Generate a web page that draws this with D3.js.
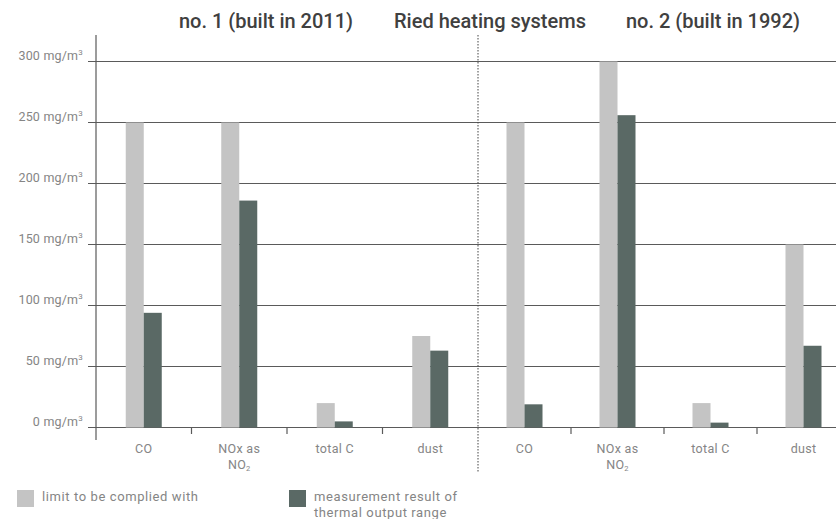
<!DOCTYPE html>
<html>
<head>
<meta charset="utf-8">
<script src="https://cdn.jsdelivr.net/npm/d3@7/dist/d3.min.js"></script>
<style>
  html, body { margin: 0; padding: 0; background: #fff; }
  svg { display: block; font-family: "Roboto", "DejaVu Sans", sans-serif; }
</style>
</head>
<body>
<svg id="chart" width="836" height="519"></svg>
<script>
// Emission measurements of two Ried heating systems (mg/m³)
const pollutants = ["CO", "NOx", "totalC", "dust"];
const systemTitles = ["no. 1 (built in 2011)", "no. 2 (built in 1992)"];
const mainTitle = "Ried heating systems";

const limit1 = [250, 250, 20, 75];
const measured1 = [94, 186, 5, 63];
const limit2 = [250, 300, 20, 150];
const measured2 = [19, 256, 4, 67];

const yTicks = [0, 50, 100, 150, 200, 250, 300];
const legendLabels = [["limit to be complied with"], ["measurement result of", "thermal output range"]];

const colLimit = "#c4c4c4";
const colMeasured = "#5a6965";
const colText = "#858585";

const svg = d3.select("#chart");

const plotTop = 35, baseY = 427.5, axisX = 96, splitX = 478, rightEnd = 850;

const y = d3.scaleLinear().domain([0, 300]).range([baseY, 61.5]);
const x1 = d3.scaleBand().domain(pollutants).range([axisX, splitX]);
const x2 = d3.scaleBand().domain(pollutants).range([splitX, rightEnd]);

// horizontal grid lines with a short lead-in past the axis
const grid = svg.append("g");
grid.selectAll("line").data(yTicks).join("line")
  .attr("x1", 88).attr("x2", 836)
  .attr("y1", d => y(d)).attr("y2", d => y(d))
  .attr("stroke", "#5a5a5a").attr("stroke-width", 1.2);

// y tick labels
const yl = svg.append("g").attr("font-size", 12.5).attr("fill", colText)
  .attr("text-anchor", "end").attr("letter-spacing", 0.2);
yTicks.forEach(t => {
  const tx = yl.append("text").attr("x", 83).attr("y", y(t) - 2);
  tx.append("tspan").text(t + " mg/m");
  tx.append("tspan").attr("font-size", 8).attr("dy", -5).text("3");
});

// vertical axis
svg.append("line").attr("x1", axisX).attr("x2", axisX).attr("y1", plotTop).attr("y2", 440)
  .attr("stroke", "#5a5a5a").attr("stroke-width", 1.2);

// dotted separator between the two systems
svg.append("line").attr("x1", splitX).attr("x2", splitX).attr("y1", plotTop).attr("y2", 473)
  .attr("stroke", "#444").attr("stroke-width", 1).attr("stroke-dasharray", "1.5,1.5");

const barW = 18;
function drawGroup(xs, limits, measured) {
  const g = svg.append("g");
  g.selectAll("rect.lim").data(pollutants).join("rect").attr("class", "lim")
    .attr("x", (d) => xs(d) + xs.bandwidth() / 2 - barW)
    .attr("width", barW)
    .attr("y", (d, i) => y(limits[i]))
    .attr("height", (d, i) => y(0) - y(limits[i]))
    .attr("fill", colLimit);
  g.selectAll("rect.meas").data(pollutants).join("rect").attr("class", "meas")
    .attr("x", (d) => xs(d) + xs.bandwidth() / 2)
    .attr("width", barW)
    .attr("y", (d, i) => y(measured[i]))
    .attr("height", (d, i) => y(0) - y(measured[i]))
    .attr("fill", colMeasured);

  // category boundary ticks
  pollutants.slice(1).forEach(p => {
    g.append("line").attr("x1", xs(p)).attr("x2", xs(p)).attr("y1", baseY).attr("y2", 434)
      .attr("stroke", "#5a5a5a").attr("stroke-width", 1.2);
  });

  // category labels
  const lab = g.append("g").attr("font-size", 12.5).attr("fill", colText)
    .attr("text-anchor", "middle").attr("letter-spacing", 0.3);
  pollutants.forEach(p => {
    const cx = xs(p) + xs.bandwidth() / 2;
    if (p === "CO") lab.append("text").attr("x", cx).attr("y", 453).text("CO");
    if (p === "totalC") lab.append("text").attr("x", cx).attr("y", 453).text("total C");
    if (p === "dust") lab.append("text").attr("x", cx).attr("y", 453).text("dust");
    if (p === "NOx") {
      lab.append("text").attr("x", cx).attr("y", 453).text("NOx as");
      const t = lab.append("text").attr("x", cx).attr("y", 469);
      t.append("tspan").text("NO");
      t.append("tspan").attr("font-size", 7.5).attr("dy", 2).text("2");
    }
  });
}
drawGroup(x1, limit1, measured1);
drawGroup(x2, limit2, measured2);

// titles
const titles = svg.append("g").attr("font-size", 20).attr("font-weight", 500)
  .attr("fill", "#404040").attr("text-anchor", "middle");
titles.append("text").attr("x", 266).attr("y", 28).text(systemTitles[0]);
titles.append("text").attr("x", 490).attr("y", 28).text(mainTitle);
titles.append("text").attr("x", 713).attr("y", 28).text(systemTitles[1]);

// legend
const legend = svg.append("g").attr("font-size", 13).attr("fill", colText).attr("letter-spacing", 0.6);
const legendItems = [
  { x: 17, color: colLimit, lines: legendLabels[0] },
  { x: 289, color: colMeasured, lines: legendLabels[1] }
];
legendItems.forEach(it => {
  legend.append("rect").attr("x", it.x).attr("y", 490).attr("width", 17).attr("height", 17).attr("fill", it.color);
  it.lines.forEach((l, i) => {
    legend.append("text").attr("x", it.x + 25).attr("y", 501 + i * 15.5).text(l);
  });
});
</script>
</body>
</html>
